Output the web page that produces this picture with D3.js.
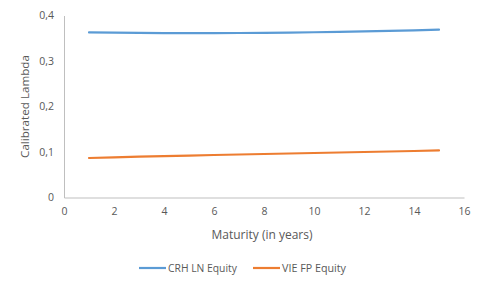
<!DOCTYPE html>
<html><head><meta charset="utf-8">
<script src="https://cdn.jsdelivr.net/npm/d3@7"></script>
<style>body{margin:0;background:#fff}svg{display:block}text{font-family:"Open Sans",sans-serif;fill:#595959}</style>
</head><body>
<script>
const maturities = [1,2,3,4,5,6,7,8,9,10,11,12,13,14,15];
const crhValues = [0.3628,0.3622,0.3617,0.3614,0.3613,0.3613,0.3615,0.3619,0.3625,0.3632,0.3641,0.3651,0.3662,0.3674,0.3688];
const vieValues = [0.0868,0.0883,0.0897,0.0910,0.0922,0.0934,0.0945,0.0956,0.0967,0.0978,0.0989,0.1000,0.1011,0.1022,0.1034];
const seriesNames = ["CRH LN Equity","VIE FP Equity"];
const seriesColors = ["#5b9bd5","#ed7d31"];
const xTicks = [0,2,4,6,8,10,12,14,16];
const yTicks = [0,0.1,0.2,0.3,0.4];

const W=481,H=289;
const svg=d3.select("body").append("svg").attr("width",W).attr("height",H);
const x=d3.scaleLinear().domain([0,16]).range([64,464]);
const y=d3.scaleLinear().domain([0,0.4]).range([197.5,15.5]);
const fmt=d=>d===0?"0":String(d.toFixed(1)).replace(".",",");

function fit(sel,target){
  const n=sel.node(); const fs=+sel.attr("font-size");
  const w=n.getComputedTextLength(); if(w>0) sel.attr("font-size",(fs*target/w).toFixed(2));
}

const yAx=svg.append("g").attr("transform","translate(64,0)")
  .call(d3.axisLeft(y).tickValues(yTicks).tickFormat(fmt).tickSize(0).tickPadding(10));
yAx.select(".domain").attr("stroke","#bfbfbf");
yAx.selectAll("text").attr("font-size",10.5).style("fill","#595959");
const xAx=svg.append("g").attr("transform","translate(0,197.5)")
  .call(d3.axisBottom(x).tickValues(xTicks).tickFormat(d3.format("d")).tickSize(0).tickPadding(10));
xAx.select(".domain").attr("stroke","#bfbfbf");
xAx.selectAll("text").attr("font-size",10.5).style("fill","#595959");

const line=d3.line().x((d,i)=>x(maturities[i])).y(d=>y(d));
[crhValues,vieValues].forEach((vals,k)=>{
  svg.append("path").datum(vals).attr("d",line).attr("fill","none")
    .attr("stroke",seriesColors[k]).attr("stroke-width",2.2).attr("stroke-linecap","round");
});

const yt=svg.append("text").attr("transform","translate(29,106.5) rotate(-90)").attr("text-anchor","middle")
  .attr("font-size",10).text("Calibrated Lambda");
fit(yt,103);
const xt=svg.append("text").attr("x",262).attr("y",239).attr("text-anchor","middle")
  .attr("font-size",10).text("Maturity (in years)");
fit(xt,101);

const legX=[139,253];
const legW=[69,64];
seriesNames.forEach((n,k)=>{
  const g=svg.append("g").attr("transform",`translate(${legX[k]},268)`);
  g.append("line").attr("x1",0).attr("x2",27).attr("stroke",seriesColors[k]).attr("stroke-width",2.2);
  const t=g.append("text").attr("x",29).attr("y",3.5).attr("font-size",10).text(n);
  fit(t,legW[k]);
});
</script>
</body></html>
